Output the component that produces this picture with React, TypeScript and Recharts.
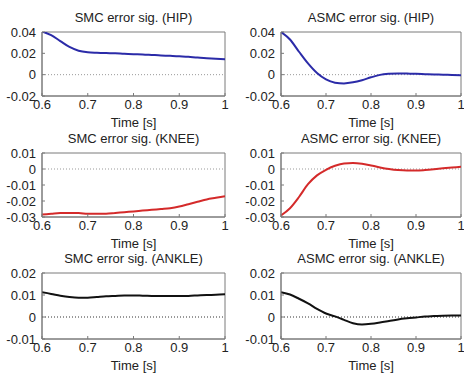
import React from 'react';
import { LineChart, Line, XAxis, YAxis, ReferenceLine, ReferenceArea } from 'recharts';

const time = [0.6, 0.62, 0.64, 0.66, 0.68, 0.7, 0.72, 0.74, 0.76, 0.78, 0.8, 0.82, 0.84, 0.86, 0.88, 0.9, 0.92, 0.94, 0.96, 0.98, 1.0];

const smcHip = [0.0405, 0.037, 0.0315, 0.026, 0.0225, 0.021, 0.0205, 0.0202, 0.02, 0.0195, 0.0192, 0.019, 0.0185, 0.018, 0.0177, 0.0172, 0.0167, 0.016, 0.0155, 0.015, 0.0145];
const asmcHip = [0.04, 0.033, 0.0215, 0.0105, 0.0015, -0.0045, -0.0075, -0.0082, -0.0072, -0.0052, -0.0025, -0.0002, 0.0008, 0.0012, 0.001, 0.0008, 0.0005, 0.0002, 0.0, -0.0003, -0.0005];
const smcKnee = [-0.0285, -0.028, -0.0275, -0.0275, -0.0275, -0.028, -0.028, -0.028, -0.0275, -0.027, -0.0265, -0.026, -0.0255, -0.025, -0.0245, -0.0235, -0.022, -0.0205, -0.019, -0.018, -0.017];
const asmcKnee = [-0.029, -0.0245, -0.0175, -0.0095, -0.004, -0.0005, 0.002, 0.0035, 0.0038, 0.0033, 0.0022, 0.001, 0.0, -0.0007, -0.001, -0.001, -0.0007, -0.0002, 0.0004, 0.0009, 0.0014];
const smcAnkle = [0.0112, 0.0105, 0.0097, 0.0091, 0.0088, 0.0088, 0.0091, 0.0094, 0.0096, 0.0098, 0.0098, 0.0097, 0.0096, 0.0095, 0.0095, 0.0095, 0.0096, 0.0098, 0.01, 0.0101, 0.0103];
const asmcAnkle = [0.0113, 0.0102, 0.0083, 0.0062, 0.0037, 0.0016, 0.0003, -0.0013, -0.0028, -0.0034, -0.0031, -0.0025, -0.0018, -0.0011, -0.0006, -0.0002, 0.0002, 0.0004, 0.0006, 0.0007, 0.0007];

const xTicks = [0.6, 0.7, 0.8, 0.9, 1];
const hipTicks = [-0.02, 0, 0.02, 0.04];
const kneeTicks = [-0.03, -0.02, -0.01, 0, 0.01];
const ankleTicks = [-0.01, 0, 0.01, 0.02];

const FONT = '"Liberation Sans", Arial, sans-serif';
const AXIS = '#7a7a7a';

const fmtX = (v: number) => (v === 1 ? '1' : v.toFixed(1));
const fmtY = (v: number) => (v === 0 ? '0' : v.toFixed(2));

interface PanelProps {
  title: string;
  values: number[];
  color: string;
  yTicks: number[];
  x: number;
  y: number;
  w: number;
  h: number;
  zeroColor: string;
}

// one MATLAB-style subplot: box, zero line, single trace
function Panel({ title, values, color, yTicks, x, y, w, h, zeroColor }: PanelProps) {
  const data = time.map((t, i) => ({ t, v: values[i] }));
  const yMin = yTicks[0];
  const yMax = yTicks[yTicks.length - 1];
  const tickStyle = { fill: '#222', fontSize: 13, fontFamily: FONT };
  const textStyle: React.CSSProperties = {
    position: 'absolute',
    left: x - 20,
    width: w + 40,
    textAlign: 'center',
    lineHeight: '14px',
    fontFamily: FONT,
    color: '#222',
    whiteSpace: 'nowrap',
  };
  return (
    <>
      <div style={{ ...textStyle, top: y - 21, fontSize: 13 }}>{title}</div>
      <div style={{ position: 'absolute', left: x - 45, top: y - 10 }}>
        <LineChart
          width={w + 51}
          height={h + 50}
          data={data}
          margin={{ top: 10, right: 6, left: 0, bottom: 10 }}
        >
          <XAxis
            dataKey="t"
            type="number"
            domain={[0.6, 1]}
            ticks={xTicks}
            interval={0}
            allowDataOverflow
            tickFormatter={fmtX}
            tick={tickStyle}
            stroke={AXIS}
            tickSize={-3}
            tickMargin={7}
            height={30}
          />
          <YAxis
            type="number"
            domain={[yMin, yMax]}
            ticks={yTicks}
            interval={0}
            allowDataOverflow
            tickFormatter={fmtY}
            tick={tickStyle}
            stroke={AXIS}
            tickSize={-3}
            tickMargin={9}
            width={45}
          />
          <ReferenceArea x1={0.6} x2={1} y1={yMin} y2={yMax} fill="none" stroke={AXIS} strokeWidth={1} />
          <ReferenceLine y={0} stroke={zeroColor} strokeDasharray="1 2" />
          <Line
            type="monotone"
            dataKey="v"
            stroke={color}
            strokeWidth={2}
            dot={false}
            isAnimationActive={false}
          />
        </LineChart>
      </div>
      <div style={{ ...textStyle, top: y + h + 20, fontSize: 13 }}>Time [s]</div>
    </>
  );
}

const cols = [
  { x: 42, w: 183 },
  { x: 281, w: 180 },
];
const rows = [
  { y: 32, h: 64 },
  { y: 153, h: 64 },
  { y: 273, h: 66 },
];

export default function App() {
  return (
    <div
      style={{
        position: 'absolute',
        left: 0,
        top: 0,
        width: 464,
        height: 375,
        background: '#fff',
        overflow: 'hidden',
      }}
    >
      <Panel title="SMC error sig. (HIP)" values={smcHip} color="#2b2ba8" yTicks={hipTicks} {...cols[0]} {...rows[0]} zeroColor="#999" />
      <Panel title="ASMC error sig. (HIP)" values={asmcHip} color="#2b2ba8" yTicks={hipTicks} {...cols[1]} {...rows[0]} zeroColor="#999" />
      <Panel title="SMC error sig. (KNEE)" values={smcKnee} color="#d42a2a" yTicks={kneeTicks} {...cols[0]} {...rows[1]} zeroColor="#999" />
      <Panel title="ASMC error sig. (KNEE)" values={asmcKnee} color="#d42a2a" yTicks={kneeTicks} {...cols[1]} {...rows[1]} zeroColor="#999" />
      <Panel title="SMC error sig. (ANKLE)" values={smcAnkle} color="#111" yTicks={ankleTicks} {...cols[0]} {...rows[2]} zeroColor="#333" />
      <Panel title="ASMC error sig. (ANKLE)" values={asmcAnkle} color="#111" yTicks={ankleTicks} {...cols[1]} {...rows[2]} zeroColor="#333" />
    </div>
  );
}
